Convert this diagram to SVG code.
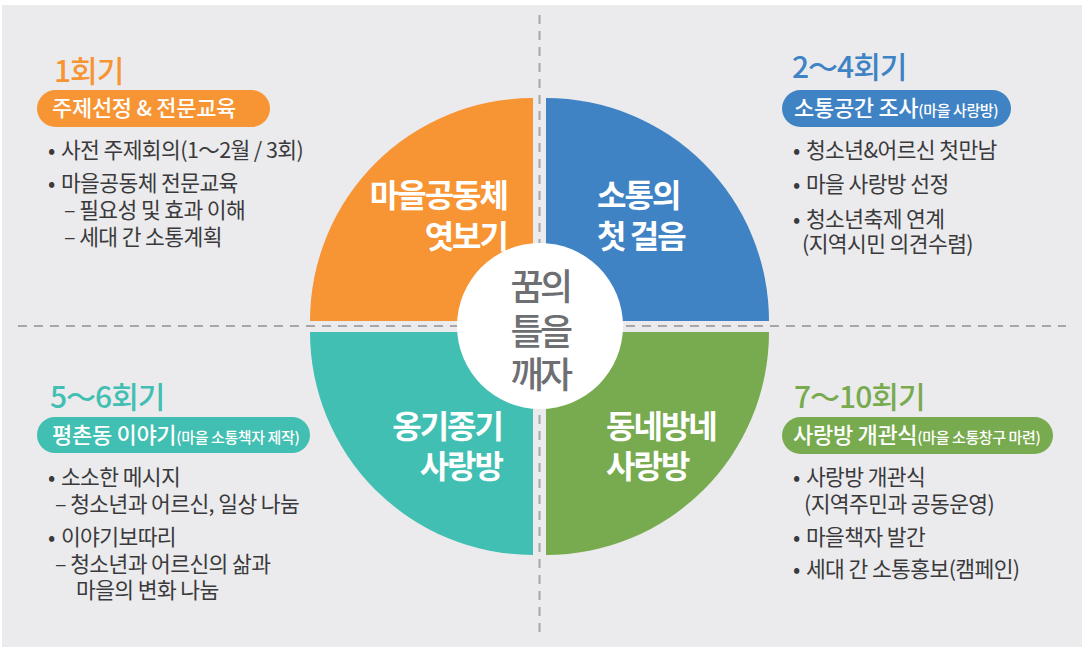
<svg xmlns="http://www.w3.org/2000/svg" width="1084" height="649" viewBox="0 0 1084 649">
<style>
text{font-family:"Noto Sans CJK KR","Noto Sans",sans-serif;}
.bg{fill:#ebebed;}
.div{stroke:#a6a6a9;stroke-width:2;stroke-dasharray:9 7;fill:none;}
.head{font-size:30px;font-weight:500;letter-spacing:-1px;}
.pill{font-size:22px;fill:#fff;font-weight:500;letter-spacing:-0.3px;}
.small{font-size:15px;letter-spacing:-0.4px;}
.item{font-size:21.5px;fill:#3a3a3c;letter-spacing:-0.6px;}
.quad{font-size:32px;font-weight:700;fill:#fff;letter-spacing:-2px;}
.center{font-size:36px;font-weight:500;fill:#6e6f73;letter-spacing:-3.5px;}
</style>
<rect class="bg" x="2" y="5" width="1080" height="642"/>
<g id="dividers">
<line class="div" x1="539.5" y1="15" x2="539.5" y2="636"/>
<line class="div" x1="18" y1="326" x2="1066" y2="326"/>
</g>
<g id="quad-orange">
<path d="M533,321 L310,321 A223,223 0 0 1 533,98 Z" fill="#f79433"/>
<text class="quad" x="507" y="207" text-anchor="end">마을공동체</text>
<text class="quad" x="507" y="248" text-anchor="end">엿보기</text>
</g>
<g id="quad-blue">
<path d="M546,321 L546,98 A223,223 0 0 1 769,321 Z" fill="#3f83c5"/>
<text class="quad" x="597" y="207">소통의</text>
<text class="quad" x="597" y="248">첫 걸음</text>
</g>
<g id="quad-teal">
<path d="M533,332 L533,555 A223,223 0 0 1 310,332 Z" fill="#41bfb2"/>
<text class="quad" x="502" y="438" text-anchor="end">옹기종기</text>
<text class="quad" x="502" y="478" text-anchor="end">사랑방</text>
</g>
<g id="quad-green">
<path d="M546,332 L769,332 A223,223 0 0 1 546,555 Z" fill="#78ab4f"/>
<text class="quad" x="606" y="438">동네방네</text>
<text class="quad" x="606" y="478">사랑방</text>
</g>
<g id="center">
<circle cx="540" cy="326" r="83" fill="#fff"/>
<text class="center" x="540" y="300" text-anchor="middle">꿈의</text>
<text class="center" x="540" y="345" text-anchor="middle">틀을</text>
<text class="center" x="540" y="388" text-anchor="middle">깨자</text>
</g>
<g id="stage1">
<text class="head" x="54" y="82" fill="#f79433">1회기</text>
<rect x="37" y="90" width="233" height="37" rx="18.5" fill="#f79433"/>
<text class="pill" x="52" y="116">주제선정 &amp; 전문교육</text>
<text class="item" x="48" y="158">• <tspan dx="2">사전 주제회의(1～2월 / 3회)</tspan></text>
<text class="item" x="48" y="191">• <tspan dx="2">마을공동체 전문교육</tspan></text>
<text class="item" x="64" y="218">– 필요성 및 효과 이해</text>
<text class="item" x="64" y="245">– 세대 간 소통계획</text>
</g>
<g id="stage2">
<text class="head" x="792" y="78" fill="#3f83c5">2～4회기</text>
<rect x="782" y="90" width="229" height="37" rx="18.5" fill="#3f83c5"/>
<text class="pill" x="794" y="116">소통공간 조사<tspan class="small">(마을 사랑방)</tspan></text>
<text class="item" x="793" y="158">• <tspan dx="2">청소년&amp;어르신 첫만남</tspan></text>
<text class="item" x="793" y="192">• <tspan dx="2">마을 사랑방 선정</tspan></text>
<text class="item" x="793" y="227">• <tspan dx="2">청소년축제 연계</tspan></text>
<text class="item" x="802" y="252">(지역시민 의견수렴)</text>
</g>
<g id="stage3">
<text class="head" x="50" y="408" fill="#41bfb2">5～6회기</text>
<rect x="37" y="417" width="273" height="36" rx="18" fill="#41bfb2"/>
<text class="pill" x="52" y="443">평촌동 이야기<tspan class="small">(마을 소통책자 제작)</tspan></text>
<text class="item" x="48" y="485">• <tspan dx="2">소소한 메시지</tspan></text>
<text class="item" x="55" y="512">– 청소년과 어르신, 일상 나눔</text>
<text class="item" x="48" y="545">• <tspan dx="2">이야기보따리</tspan></text>
<text class="item" x="55" y="572">– 청소년과 어르신의 삶과</text>
<text class="item" x="76" y="598">마을의 변화 나눔</text>
</g>
<g id="stage4">
<text class="head" x="794" y="408" fill="#78ab4f">7～10회기</text>
<rect x="782" y="417" width="271" height="37" rx="18.5" fill="#78ab4f"/>
<text class="pill" x="793" y="443">사랑방 개관식<tspan class="small">(마을 소통창구 마련)</tspan></text>
<text class="item" x="793" y="485">• <tspan dx="2">사랑방 개관식</tspan></text>
<text class="item" x="804" y="512">(지역주민과 공동운영)</text>
<text class="item" x="793" y="545">• <tspan dx="2">마을책자 발간</tspan></text>
<text class="item" x="793" y="577">• <tspan dx="2">세대 간 소통홍보(캠페인)</tspan></text>
</g>
</svg>
